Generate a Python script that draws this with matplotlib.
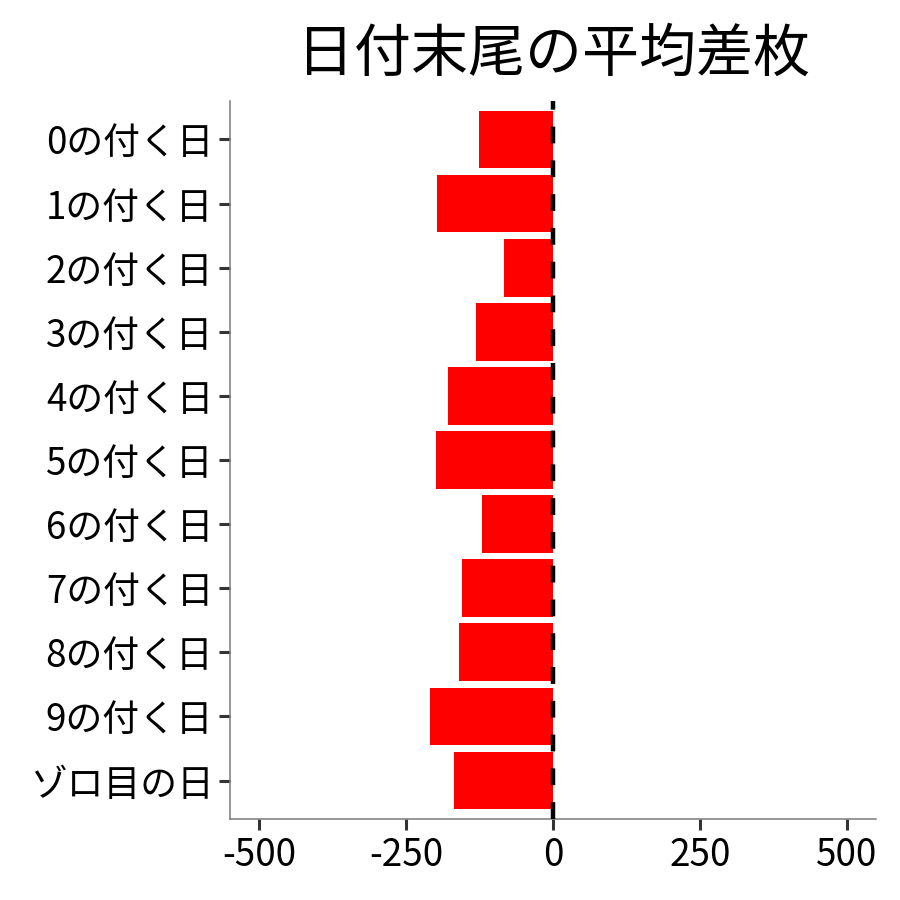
import matplotlib
matplotlib.use("Agg")
import matplotlib.pyplot as plt

plt.rcParams['font.family'] = ['Noto Sans CJK JP', 'DejaVu Sans']

categories = ["0の付く日", "1の付く日", "2の付く日", "3の付く日", "4の付く日",
              "5の付く日", "6の付く日", "7の付く日", "8の付く日", "9の付く日", "ゾロ目の日"]
values = [-126, -198, -84, -131, -179, -200, -121, -155, -160, -210, -169]
xticks = [-500, -250, 0, 250, 500]
xticklabels = ["-500", "-250", "0", "250", "500"]
title = "日付末尾の平均差枚"

fig = plt.figure(figsize=(9, 9), dpi=100)
ax = fig.add_axes([0.2556, 0.09, 0.7177, 0.7978])

pos = list(range(len(categories)))
ax.barh(pos, values, height=0.9, color="#FF0000", zorder=2)
ax.axvline(0, color="black", linewidth=3.2, linestyle=(0, (3.8, 3.8)), zorder=3)

ax.set_yticks(pos)
ax.set_yticklabels(categories)
ax.set_ylim(len(categories) - 0.4, -0.6)
ax.set_xlim(-550, 550)
ax.set_xticks(xticks)
ax.set_xticklabels(xticklabels)

for s in ["top", "right"]:
    ax.spines[s].set_visible(False)
for s in ["left", "bottom"]:
    ax.spines[s].set_color("#7a7a7a")
    ax.spines[s].set_linewidth(1.1)

ax.tick_params(axis="both", colors="#333333", length=8, width=2.2,
               labelsize=26.5, labelcolor="black", pad=4)

ax.set_title(title, fontsize=41, pad=22, color="black")

fig.savefig("out.png", dpi=100, facecolor="white")
